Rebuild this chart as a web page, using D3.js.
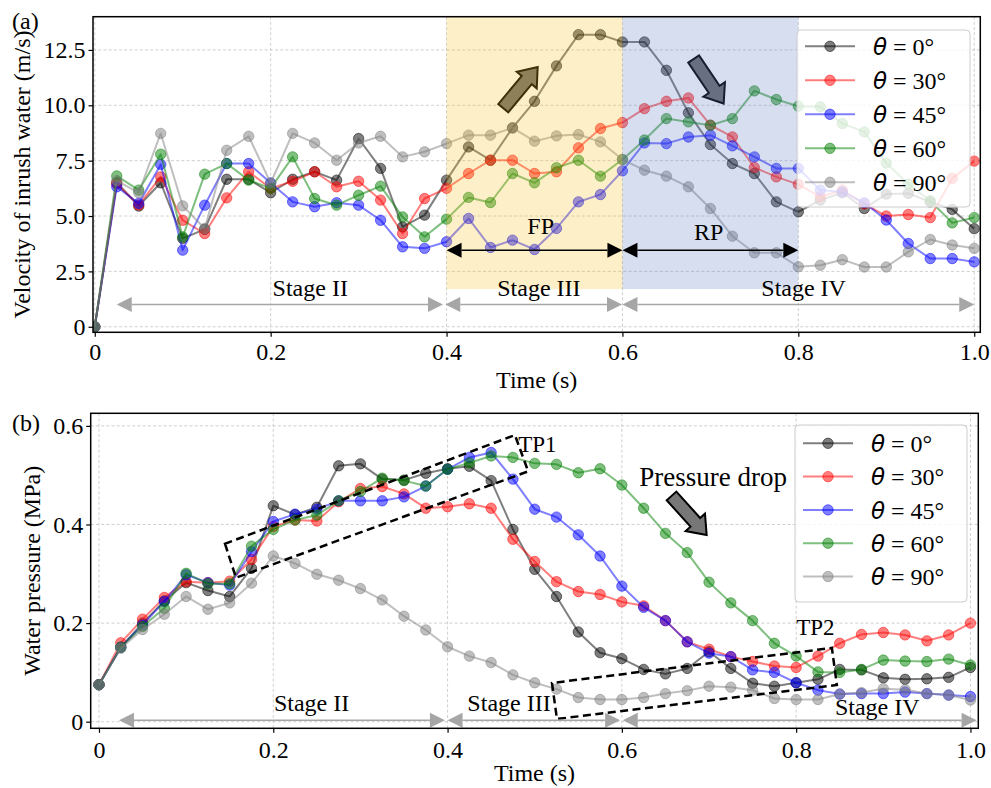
<!DOCTYPE html>
<html>
<head>
<meta charset="utf-8">
<script src="https://cdn.jsdelivr.net/npm/d3@7"></script>
<style>
  html, body { margin: 0; padding: 0; background: #fff; }
  svg { display: block; }
  text { font-family: "Liberation Serif", "Times New Roman", serif; fill: #000; }
</style>
</head>
<body>
<svg id="chart" width="991" height="788"></svg>
<script>
// ---- Sample times (s) ----
const times = [0, 0.025, 0.05, 0.075, 0.1, 0.125, 0.15, 0.175, 0.2, 0.225, 0.25, 0.275, 0.3, 0.325, 0.35, 0.375, 0.4,
  0.425, 0.45, 0.475, 0.5, 0.525, 0.55, 0.575, 0.6, 0.625, 0.65, 0.675, 0.7, 0.725, 0.75, 0.775, 0.8,
  0.825, 0.85, 0.875, 0.9, 0.925, 0.95, 0.975, 1.0];

// ---- Series labels and colours ----
const angles = ["0", "30", "45", "60", "90"];
const colors = ["#000000", "#ff0000", "#0000ff", "#008000", "#808080"];

// ---- (a) Velocity of inrush water (m/s) ----
const velTheta0 = [0, 6.5, 5.45, 6.5, 3.99, 4.4, 6.66, 6.66, 6.05, 6.66, 7.0, 6.62, 8.5, 7.15, 4.51, 5.04, 6.62,
  8.12, 7.52, 8.98, 10.18, 11.78, 13.19, 13.19, 12.86, 12.86, 11.58, 9.66, 8.23, 7.37, 6.92, 5.64, 5.19,
  5.72, 6.05, 5.34, 5.99, 6.02, 5.64, 5.3, 4.43];
const velTheta30 = [0, 6.45, 5.5, 6.77, 4.81, 4.21, 5.82, 7.0, 6.25, 6.57, 7.0, 6.32, 6.57, 5.72, 4.21, 5.79, 6.25,
  6.92, 7.52, 7.52, 6.92, 7.0, 8.08, 8.95, 9.22, 9.85, 10.18, 10.33, 9.1, 8.57, 7.19, 6.77, 6.43,
  5.87, 6.17, 5.55, 5.0, 5.07, 4.93, 6.7, 7.48];
const velTheta45 = [0, 6.32, 5.57, 7.33, 3.46, 5.49, 7.37, 7.37, 6.49, 5.64, 5.42, 5.6, 5.49, 4.81, 3.61, 3.54, 3.84,
  4.89, 3.58, 3.91, 3.49, 4.44, 5.64, 5.97, 7.04, 8.3, 8.27, 8.57, 8.65, 8.17, 7.67, 7.15, 7.15,
  6.17, 6.09, 5.6, 4.82, 3.76, 3.08, 3.08, 2.93];
const velTheta60 = [0, 6.81, 6.17, 7.79, 4.06, 6.89, 7.37, 6.62, 6.25, 7.67, 5.79, 5.49, 5.94, 6.35, 4.96, 4.06, 4.86,
  5.84, 5.61, 6.92, 6.5, 7.18, 7.52, 6.8, 7.55, 8.43, 9.4, 9.25, 9.1, 9.4, 10.65, 10.26, 9.96,
  9.93, 9.18, 8.8, 7.39, 6.44, 5.69, 4.69, 4.93];
const velTheta90 = [0, 6.6, 6.05, 8.73, 5.46, 4.44, 7.97, 8.6, 6.49, 8.73, 8.3, 7.52, 8.3, 8.6, 7.67, 7.9, 8.27,
  8.65, 8.65, 8.98, 8.38, 8.62, 8.68, 8.35, 7.55, 7.07, 6.8, 6.32, 5.34, 4.09, 3.34, 3.34, 2.71,
  2.78, 3.03, 2.7, 2.7, 3.38, 3.94, 3.69, 3.54];

// ---- (b) Water pressure (MPa) ----
const presTheta0 = [0.075, 0.151, 0.2, 0.245, 0.282, 0.266, 0.254, 0.311, 0.438, 0.42, 0.435, 0.519, 0.523, 0.492, 0.49, 0.504, 0.513,
  0.518, 0.489, 0.39, 0.309, 0.254, 0.182, 0.14, 0.128, 0.106, 0.097, 0.108, 0.142, 0.108, 0.078, 0.072, 0.079,
  0.086, 0.106, 0.105, 0.089, 0.086, 0.087, 0.09, 0.11];
const presTheta30 = [0.075, 0.16, 0.208, 0.252, 0.284, 0.282, 0.285, 0.329, 0.396, 0.409, 0.407, 0.446, 0.473, 0.477, 0.462, 0.433, 0.436,
  0.442, 0.433, 0.37, 0.325, 0.284, 0.264, 0.258, 0.243, 0.235, 0.205, 0.162, 0.147, 0.132, 0.122, 0.113, 0.11,
  0.133, 0.159, 0.177, 0.181, 0.176, 0.164, 0.176, 0.2];
const presTheta45 = [0.075, 0.151, 0.196, 0.244, 0.298, 0.282, 0.277, 0.345, 0.406, 0.421, 0.431, 0.448, 0.448, 0.448, 0.456, 0.478, 0.512,
  0.536, 0.546, 0.492, 0.431, 0.415, 0.379, 0.336, 0.275, 0.232, 0.205, 0.162, 0.139, 0.132, 0.105, 0.1, 0.079,
  0.064, 0.056, 0.057, 0.057, 0.06, 0.057, 0.054, 0.051];
const presTheta60 = [0.075, 0.151, 0.193, 0.23, 0.301, 0.28, 0.28, 0.356, 0.39, 0.409, 0.419, 0.448, 0.467, 0.494, 0.489, 0.478, 0.512,
  0.525, 0.539, 0.536, 0.524, 0.522, 0.505, 0.513, 0.48, 0.433, 0.382, 0.343, 0.283, 0.241, 0.205, 0.159, 0.133,
  0.101, 0.1, 0.106, 0.125, 0.123, 0.122, 0.127, 0.115];
const presTheta90 = [0.075, 0.149, 0.187, 0.218, 0.254, 0.228, 0.241, 0.281, 0.336, 0.321, 0.299, 0.287, 0.27, 0.247, 0.214, 0.186, 0.152,
  0.133, 0.12, 0.095, 0.079, 0.066, 0.049, 0.045, 0.045, 0.049, 0.057, 0.063, 0.072, 0.07, 0.064, 0.047, 0.045,
  0.045, 0.056, 0.059, 0.067, 0.065, 0.057, 0.054, 0.044];

// ---- Ticks ----
const xTicks = [0, 0.2, 0.4, 0.6, 0.8, 1.0];
const xTickLabels = ["0", "0.2", "0.4", "0.6", "0.8", "1.0"];
const velTicks = [0, 2.5, 5, 7.5, 10, 12.5];
const velTickLabels = ["0", "2.5", "5.0", "7.5", "10.0", "12.5"];
const presTicks = [0, 0.2, 0.4, 0.6];
const presTickLabels = ["0", "0.2", "0.4", "0.6"];

// ---- Stage annotations ----
const stageNames = ["Stage II", "Stage III", "Stage IV"];
const stageSpansA = [[0.025, 0.396], [0.3985, 0.5995], [0.6, 1.0]];
const stageSpansB = [[0.023, 0.397], [0.4, 0.598], [0.601, 1.007]];
const stageLabelXA = [0.245, 0.505, 0.806];
const stageLabelXB = [0.244, 0.4705, 0.893];
const phaseNames = ["FP", "RP"];
const phaseSpans = [[0.4, 0.6], [0.6, 0.8]];

const velSeries = [velTheta0, velTheta30, velTheta45, velTheta60, velTheta90];
const presSeries = [presTheta0, presTheta30, presTheta45, presTheta60, presTheta90];

const svg = d3.select("#chart");
const FONT = 24;

function makePanel(cfg) {
  const g = svg.append("g");
  const x = d3.scaleLinear().domain(cfg.xDomain).range([cfg.left, cfg.right]);
  const y = d3.scaleLinear().domain(cfg.yDomain).range([cfg.bottom, cfg.top]);

  const clipId = "clip-" + cfg.id;
  svg.append("clipPath").attr("id", clipId).append("rect")
    .attr("x", cfg.left).attr("y", cfg.top)
    .attr("width", cfg.right - cfg.left).attr("height", cfg.bottom - cfg.top);

  // dashed grid
  const grid = g.append("g").attr("stroke", "#c4c4c4").attr("stroke-width", 0.8)
    .attr("stroke-dasharray", "3,2.2");
  grid.selectAll(".gx").data(xTicks).join("line")
    .attr("x1", d => x(d)).attr("x2", d => x(d)).attr("y1", cfg.top).attr("y2", cfg.bottom);
  grid.selectAll(".gy").data(cfg.yTicks).join("line")
    .attr("y1", d => y(d)).attr("y2", d => y(d)).attr("x1", cfg.left).attr("x2", cfg.right);

  return { g, x, y, clipId };
}

function drawSeries(p, seriesList) {
  const layer = p.g.append("g").attr("clip-path", `url(#${p.clipId})`);
  const line = d3.line().x((d, i) => p.x(times[i])).y(d => p.y(d));
  seriesList.forEach((vals, k) => {
    const s = layer.append("g");
    s.append("path").datum(vals).attr("d", line)
      .attr("fill", "none").attr("stroke", colors[k]).attr("stroke-opacity", 0.5)
      .attr("stroke-width", 2).attr("stroke-linejoin", "round");
    s.selectAll("circle").data(vals).join("circle")
      .attr("cx", (d, i) => p.x(times[i])).attr("cy", d => p.y(d)).attr("r", 5.2)
      .attr("fill", colors[k]).attr("fill-opacity", 0.5)
      .attr("stroke", colors[k]).attr("stroke-opacity", 0.5).attr("stroke-width", 1);
  });
}

function drawAxes(p, cfg) {
  const xAxis = d3.axisBottom(p.x).tickValues(xTicks).tickFormat((d, i) => xTickLabels[i])
    .tickSize(4.5).tickPadding(3);
  const yAxis = d3.axisLeft(p.y).tickValues(cfg.yTicks).tickFormat((d, i) => cfg.yTickLabels[i])
    .tickSize(4.5).tickPadding(3);
  const gx = p.g.append("g").attr("transform", `translate(0,${cfg.bottom})`).call(xAxis);
  const gy = p.g.append("g").attr("transform", `translate(${cfg.left},0)`).call(yAxis);
  [gx, gy].forEach(a => {
    a.select(".domain").remove();
    a.selectAll("line").attr("stroke", "#000").attr("stroke-width", 1.2);
    a.selectAll("text").attr("font-size", FONT).attr("font-family", "Liberation Serif");
  });
  gx.selectAll("text").attr("dy", null).attr("y", cfg.xTickBaseline - cfg.bottom);
  // frame
  p.g.append("rect").attr("x", cfg.left).attr("y", cfg.top)
    .attr("width", cfg.right - cfg.left).attr("height", cfg.bottom - cfg.top)
    .attr("fill", "none").attr("stroke", "#000").attr("stroke-width", 1.5);
  // axis titles
  p.g.append("text").attr("x", (cfg.left + cfg.right) / 2).attr("y", cfg.xLabelBaseline)
    .attr("text-anchor", "middle").attr("font-size", FONT).text("Time (s)");
  p.g.append("text")
    .attr("transform", `translate(${cfg.yLabelX},${(cfg.top + cfg.bottom) / 2}) rotate(-90)`)
    .attr("text-anchor", "middle").attr("font-size", FONT).text(cfg.yLabel);
  p.g.append("text").attr("x", cfg.tagX).attr("y", cfg.tagY).attr("font-size", FONT).text(cfg.tag);
}

// double-headed arrow with filled triangular heads (pixel geometry from data endpoints)
function doubleArrow(g, x1, x2, yy, color, lw) {
  const hl = 15, hw = 7.5;
  g.append("line").attr("x1", x1 + hl).attr("x2", x2 - hl).attr("y1", yy).attr("y2", yy)
    .attr("stroke", color).attr("stroke-width", lw);
  g.append("path").attr("d", `M${x1},${yy} L${x1 + hl},${yy - hw} L${x1 + hl},${yy + hw} Z`).attr("fill", color);
  g.append("path").attr("d", `M${x2},${yy} L${x2 - hl},${yy - hw} L${x2 - hl},${yy + hw} Z`).attr("fill", color);
}

// broad block arrow from tail to tip
function blockArrow(g, tx, ty, px, py, fill) {
  const dx = px - tx, dy = py - ty, L = Math.hypot(dx, dy);
  const ux = dx / L, uy = dy / L, nx = -uy, ny = ux;
  const hl = 17, sw = 6.5, hw = 13;
  const bx = tx + ux * (L - hl), by = ty + uy * (L - hl);
  const pts = [
    [tx + nx * sw, ty + ny * sw], [bx + nx * sw, by + ny * sw], [bx + nx * hw, by + ny * hw],
    [px, py], [bx - nx * hw, by - ny * hw], [bx - nx * sw, by - ny * sw], [tx - nx * sw, ty - ny * sw]
  ];
  g.append("path").attr("d", "M" + pts.map(p => p.join(",")).join("L") + "Z")
    .attr("fill", fill).attr("stroke", "#000").attr("stroke-width", 2).attr("stroke-linejoin", "miter");
}

function drawLegend(g, bx, by, bw, bh, rowY0, rowStep) {
  const lg = g.append("g");
  lg.append("rect").attr("x", bx).attr("y", by).attr("width", bw).attr("height", bh)
    .attr("rx", 4).attr("fill", "#fff").attr("fill-opacity", 0.8)
    .attr("stroke", "#cccccc").attr("stroke-width", 1);
  angles.forEach((a, k) => {
    const yy = rowY0 + k * rowStep;
    lg.append("line").attr("x1", bx + 8).attr("x2", bx + 58).attr("y1", yy).attr("y2", yy)
      .attr("stroke", colors[k]).attr("stroke-opacity", 0.5).attr("stroke-width", 2);
    lg.append("circle").attr("cx", bx + 33).attr("cy", yy).attr("r", 5.2)
      .attr("fill", colors[k]).attr("fill-opacity", 0.5)
      .attr("stroke", colors[k]).attr("stroke-opacity", 0.5).attr("stroke-width", 1);
    const t = lg.append("text").attr("x", bx + 76).attr("y", yy).attr("dy", "0.36em").attr("font-size", 24);
    t.append("tspan").attr("font-family", "DejaVu Sans").attr("font-style", "italic").attr("font-size", 23).text("θ");
    t.append("tspan").text(" = " + a + "°");
  });
}

// ================= Panel (a) =================
const cfgA = {
  id: "a", left: 93, right: 980.3, top: 16.7, bottom: 332.3,
  xDomain: [-0.002, 1.0069], yDomain: [-0.25, 14],
  yTicks: velTicks, yTickLabels: velTickLabels,
  xTickBaseline: 360, xLabelBaseline: 388, yLabelX: 30,
  yLabel: "Velocity of inrush water (m/s)", tag: "(a)", tagX: 12, tagY: 29
};
const pA = makePanel(cfgA);
// trend arrows sit beneath the shaded phases
blockArrow(pA.g, pA.x(0.4645), pA.y(9.87), pA.x(0.5036), pA.y(11.73), "#6b6b6b");
blockArrow(pA.g, pA.x(0.681), pA.y(12.09), pA.x(0.7151), pA.y(10.08), "#6b6b6b");
drawSeries(pA, velSeries);
// shaded phases: forward (yellow) and reverse (blue)
const phaseFill = ["#f7bf23", "#5b7bbf"];
phaseSpans.forEach((s, i) => {
  pA.g.append("rect").attr("x", pA.x(s[0])).attr("width", pA.x(s[1]) - pA.x(s[0]))
    .attr("y", cfgA.top).attr("height", pA.y(1.7) - cfgA.top)
    .attr("fill", phaseFill[i]).attr("fill-opacity", 0.25);
});
phaseSpans.forEach((s, i) => {
  doubleArrow(pA.g, pA.x(s[0]), pA.x(s[1]), pA.y(3.46), "#000", 1.5);
});
pA.g.append("text").attr("x", pA.x(0.507)).attr("y", pA.y(4.2)).attr("text-anchor", "middle")
  .attr("font-size", FONT).text(phaseNames[0]);
pA.g.append("text").attr("x", pA.x(0.698)).attr("y", pA.y(3.9)).attr("text-anchor", "middle")
  .attr("font-size", FONT).text(phaseNames[1]);
stageSpansA.forEach((s, i) => {
  doubleArrow(pA.g, pA.x(s[0]), pA.x(s[1]), pA.y(1.0), "#a6a6a6", 1.5);
  pA.g.append("text").attr("x", pA.x(stageLabelXA[i])).attr("y", pA.y(1.38))
    .attr("text-anchor", "middle").attr("font-size", FONT).text(stageNames[i]);
});
drawLegend(pA.g, 797, 30, 173, 177, 46.3, 34);
drawAxes(pA, cfgA);

// ================= Panel (b) =================
const cfgB = {
  id: "b", left: 90.7, right: 978.3, top: 413.3, bottom: 728.3,
  xDomain: [-0.0095, 1.009], yDomain: [-0.0134, 0.6255],
  yTicks: presTicks, yTickLabels: presTickLabels,
  xTickBaseline: 758, xLabelBaseline: 781, yLabelX: 40,
  yLabel: "Water pressure (MPa)", tag: "(b)", tagX: 12, tagY: 431
};
const pB = makePanel(cfgB);
drawSeries(pB, presSeries);
// transition-point boxes (corner points in data units)
const tp1Box = [[0.1446, 0.361], [0.1572, 0.292], [0.4925, 0.5077], [0.4773, 0.5813]];
const tp2Box = [[0.5198, 0.0785], [0.5255, 0.0055], [0.8467, 0.0745], [0.841, 0.1495]];
[tp1Box, tp2Box].forEach(b => {
  pB.g.append("path")
    .attr("d", "M" + b.map(c => [pB.x(c[0]), pB.y(c[1])].join(",")).join("L") + "Z")
    .attr("fill", "none").attr("stroke", "#000").attr("stroke-width", 2.5).attr("stroke-dasharray", "8,4.5");
});
pB.g.append("text").attr("x", pB.x(0.481)).attr("y", pB.y(0.547)).attr("font-size", 23).text("TP1");
pB.g.append("text").attr("x", pB.x(0.8)).attr("y", pB.y(0.176)).attr("font-size", 23).text("TP2");
pB.g.append("text").attr("x", pB.x(0.62)).attr("y", pB.y(0.479)).attr("font-size", 27).text("Pressure drop");
blockArrow(pB.g, pB.x(0.657), pB.y(0.458), pB.x(0.6973), pB.y(0.3787), "#777777");
stageSpansB.forEach((s, i) => {
  doubleArrow(pB.g, pB.x(s[0]), pB.x(s[1]), pB.y(0.003), "#a6a6a6", 1.5);
});
const stageLabelYB = [0.0215, 0.0215, 0.0136];
stageSpansB.forEach((s, i) => {
  pB.g.append("text").attr("x", pB.x(stageLabelXB[i])).attr("y", pB.y(stageLabelYB[i]))
    .attr("text-anchor", "middle").attr("font-size", FONT).text(stageNames[i]);
});
drawLegend(pB.g, 795, 425, 172, 177, 443.3, 33.3);
drawAxes(pB, cfgB);
</script>
</body>
</html>
